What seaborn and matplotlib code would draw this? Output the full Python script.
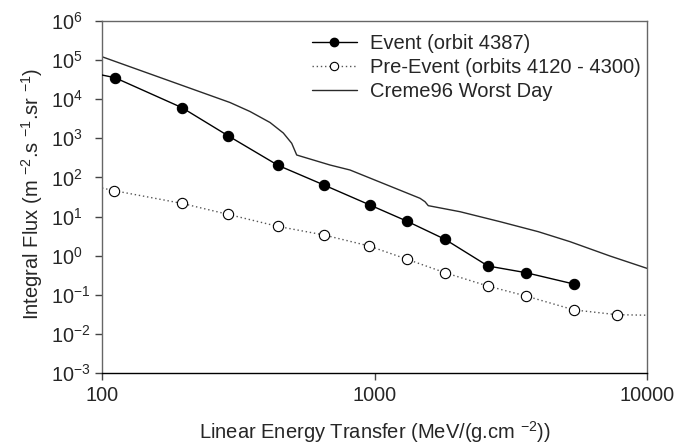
import numpy as np
import pandas as pd
import matplotlib
matplotlib.use("Agg")
import matplotlib.pyplot as plt
import seaborn as sns
from matplotlib.lines import Line2D
from matplotlib.ticker import FixedLocator, NullLocator

# ---------------- data ----------------
# Event (orbit 4387): line (starts at left axis edge) and marker points
event_line_x = [100, 111.6, 196.7, 290, 442.5, 652.7, 962.7, 1316, 1814, 2609, 3597, 5397]
event_line_y = [41600, 35480, 6070, 1167, 204, 64, 19.7, 7.6, 2.62, 0.544, 0.367, 0.188]
event_x = [111.6, 196.7, 290, 442.5, 652.7, 962.7, 1316, 1814, 2609, 3597, 5397]
event_y = [35480, 6070, 1167, 204, 64, 19.7, 7.6, 2.62, 0.544, 0.367, 0.188]

# Pre-Event (orbits 4120 - 4300): dotted line spanning the axis and marker points
pre_line_x = [100, 111, 196, 290, 442, 650, 955, 1316, 1814, 2600, 3597, 5400, 7743, 10000]
pre_line_y = [53.7, 45.8, 21.8, 11.4, 5.6, 3.4, 1.77, 0.81, 0.367, 0.168, 0.093, 0.041, 0.031, 0.030]
pre_x = [111, 196, 290, 442, 650, 955, 1316, 1814, 2600, 3597, 5400, 7743]
pre_y = [45.8, 21.8, 11.4, 5.6, 3.4, 1.77, 0.81, 0.367, 0.168, 0.093, 0.041, 0.031]

# Creme96 Worst Day
creme_x = [100, 294.9, 349.2, 413.6, 462.8, 496.8, 518.2, 533, 686.6, 813, 1469, 1532, 1575,
           2060, 2888, 3992, 5217, 7314, 10000]
creme_y = [1.22e5, 8241, 4853, 2541, 1368, 747, 375, 353, 208, 155, 29.3, 24, 19,
           13.3, 7.4, 4.1, 2.28, 0.98, 0.474]

series_labels = ["Event (orbit 4387)", "Pre-Event (orbits 4120 - 4300)", "Creme96 Worst Day"]

xtick_values = [100, 1000, 10000]
xtick_labels = ["100", "1000", "10000"]
ytick_exponents = [-3, -2, -1, 0, 1, 2, 3, 4, 5, 6]
ytick_labels = [r"$10^{%d}$" % e for e in ytick_exponents]

x_label = r"Linear Energy Transfer (MeV/(g.cm $^{-2}$))"
y_label = r"Integral Flux (m $^{-2}$.s $^{-1}$.sr $^{-1}$)"

# ---------------- style ----------------
sns.set_style("white")
plt.rcParams["font.family"] = ["Liberation Sans", "DejaVu Sans"]
plt.rcParams["mathtext.fontset"] = "custom"
plt.rcParams["mathtext.rm"] = "Liberation Sans"
plt.rcParams["mathtext.it"] = "Liberation Sans:italic"
plt.rcParams["mathtext.bf"] = "Liberation Sans:bold"
plt.rcParams["mathtext.default"] = "regular"

fig = plt.figure(figsize=(6.78, 4.45), dpi=100)
ax = fig.add_axes([102 / 678, 1 - 373 / 445, (647 - 102) / 678, (373 - 21) / 445])

df_event_line = pd.DataFrame({"x": event_line_x, "y": event_line_y})
df_event = pd.DataFrame({"x": event_x, "y": event_y})
df_pre_line = pd.DataFrame({"x": pre_line_x, "y": pre_line_y})
df_pre = pd.DataFrame({"x": pre_x, "y": pre_y})
df_creme = pd.DataFrame({"x": creme_x, "y": creme_y})

ax.set_xscale("log")
ax.set_yscale("log")

sns.lineplot(data=df_creme, x="x", y="y", ax=ax, color="#2a2a2a", lw=1.0,
             sort=False, estimator=None, zorder=2)
sns.lineplot(data=df_pre_line, x="x", y="y", ax=ax, color="#555555", lw=1.0,
             linestyle=(0, (1, 2)), sort=False, estimator=None, zorder=2)
sns.lineplot(data=df_event_line, x="x", y="y", ax=ax, color="black", lw=1.0,
             sort=False, estimator=None, zorder=3)
sns.scatterplot(data=df_pre, x="x", y="y", ax=ax, s=55, color="white",
                edgecolor="black", linewidth=0.8, zorder=4)
sns.scatterplot(data=df_event, x="x", y="y", ax=ax, s=55, color="black",
                edgecolor="black", linewidth=0.8, zorder=5)

ax.set_xlim(100, 10000)
ax.set_ylim(1e-3, 1e6)

ax.xaxis.set_major_locator(FixedLocator(xtick_values))
ax.xaxis.set_minor_locator(NullLocator())
ax.set_xticklabels(xtick_labels)
ax.yaxis.set_major_locator(FixedLocator([10.0 ** e for e in ytick_exponents]))
ax.yaxis.set_minor_locator(NullLocator())
ax.set_yticklabels(ytick_labels)

ax.tick_params(axis="both", which="major", direction="out", length=5, width=1,
               color="#444444", labelsize=14.3, bottom=True, left=True)
ax.tick_params(axis="x", pad=4.5)
ax.tick_params(axis="y", pad=31.5)
for lab in ax.get_yticklabels():
    lab.set_horizontalalignment("left")

ax.set_xlabel(x_label, fontsize=14.5)
ax.set_ylabel(y_label, fontsize=14.5)
ax.xaxis.set_label_coords(0.5, -0.13)
ax.yaxis.set_label_coords(-0.104, 0.51)

for side in ["left", "right", "top"]:
    ax.spines[side].set_color("#666666")
    ax.spines[side].set_linewidth(1.0)
    ax.spines[side].set_visible(True)
ax.spines["bottom"].set_color("black")
ax.spines["bottom"].set_linewidth(1.0)
ax.spines["bottom"].set_visible(True)

handles = [
    Line2D([], [], color="black", lw=1.0, marker="o", markersize=6,
           markerfacecolor="black", markeredgecolor="black"),
    Line2D([], [], color="#555555", lw=1.0, linestyle=(0, (1, 2)), marker="o",
           markersize=6, markerfacecolor="white", markeredgecolor="black",
           markeredgewidth=0.8),
    Line2D([], [], color="#2a2a2a", lw=1.0),
]
ax.legend(handles, series_labels, loc="upper left", bbox_to_anchor=(0.385, 0.962),
          frameon=False, fontsize=14.5, borderpad=0, borderaxespad=0,
          handlelength=2.23, handletextpad=0.65, labelspacing=0.25)

fig.savefig("out.png", dpi=100)
